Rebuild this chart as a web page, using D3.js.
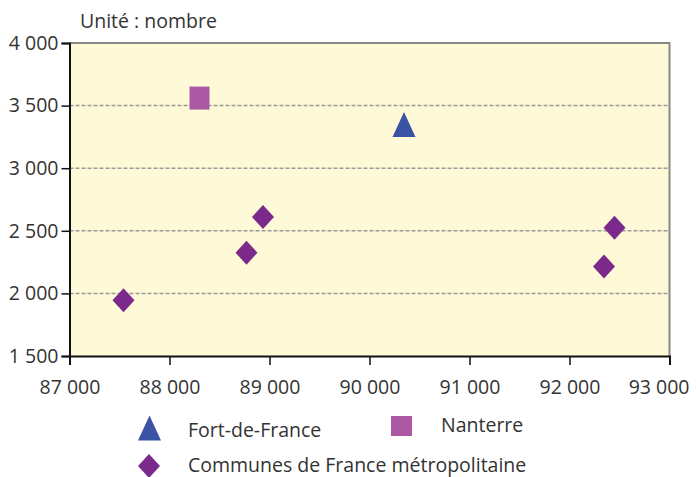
<html>
<head>
<meta charset="UTF-8">
<script src="https://d3js.org/d3.v7.min.js"></script>
<style>
  body { margin: 0; background: #fff; }
  svg { display: block; font-family: "Open Sans", sans-serif; }
</style>
</head>
<body>
<script>
// data
var fortDeFrance = [[90345, 3350]];
var nanterre = [[88300, 3560]];
var communes = [[87540, 1945], [88770, 2325], [88935, 2610], [92345, 2215], [92450, 2525]];
var xTicks = [87000, 88000, 89000, 90000, 91000, 92000, 93000];
var yTicks = [1500, 2000, 2500, 3000, 3500, 4000];

var width = 696, height = 477;
var plotLeft = 69.5, plotRight = 669.5, plotTop = 43, plotBottom = 356;
var textColor = "#333";

var svg = d3.select("body").append("svg")
  .attr("width", width)
  .attr("height", height);

var x = d3.scaleLinear().domain([87000, 93000]).range([plotLeft, plotRight]);
var y = d3.scaleLinear().domain([1500, 4000]).range([plotBottom, plotTop]);

var fmt = function(d) { return d3.format(",")(d).replace(",", " "); };

// plot background
svg.append("rect")
  .attr("x", plotLeft).attr("y", plotTop)
  .attr("width", plotRight - plotLeft).attr("height", plotBottom - plotTop)
  .attr("fill", "#fef9d6");

// dashed gridlines
svg.selectAll("line.grid")
  .data(yTicks.filter(function(d) { return d > 1500 && d < 4000; }))
  .enter().append("line")
  .attr("class", "grid")
  .attr("x1", plotLeft).attr("x2", plotRight)
  .attr("y1", function(d) { return y(d); })
  .attr("y2", function(d) { return y(d); })
  .attr("stroke", "#9a9a9a")
  .attr("stroke-width", 1.5)
  .attr("stroke-dasharray", "4,2");

// top and right borders grey
svg.append("path")
  .attr("d", "M" + plotLeft + "," + plotTop + "H" + plotRight + "V" + plotBottom)
  .attr("fill", "none")
  .attr("stroke", "#888")
  .attr("stroke-width", 2);

// axes
var yAxis = d3.axisLeft(y).tickValues(yTicks).tickFormat(fmt).tickSize(8).tickPadding(4);
var xAxis = d3.axisBottom(x).tickValues(xTicks).tickFormat(fmt).tickSize(9).tickPadding(15);

var gy = svg.append("g").attr("transform", "translate(" + plotLeft + ",0)").call(yAxis);
var gx = svg.append("g").attr("transform", "translate(0," + plotBottom + ")").call(xAxis);

[gx, gy].forEach(function(g) {
  g.select(".domain").attr("stroke", "#111").attr("stroke-width", 2);
  g.selectAll(".tick line").attr("stroke", "#111").attr("stroke-width", 1.5);
  g.selectAll("text")
    .attr("fill", textColor)
    .style("font-family", "'Open Sans', sans-serif")
    .style("font-size", "19.5px");
});
gy.selectAll("text").attr("x", -11);
// last x label pulled in so it stays inside the page
gx.selectAll(".tick text")
  .filter(function(d) { return d === 93000; })
  .attr("text-anchor", "end")
  .attr("x", 689 - plotRight);

// unit label
svg.append("text")
  .attr("x", 80).attr("y", 28)
  .attr("fill", textColor)
  .style("font-size", "19.5px")
  .text("Unité : nombre");

// marker shapes
var triangle = function(cx, cy) {
  return "M" + cx + "," + (cy - 12.5) + "L" + (cx + 11.5) + "," + (cy + 12.5) + "L" + (cx - 11.5) + "," + (cy + 12.5) + "Z";
};
var diamond = function(cx, cy) {
  return "M" + cx + "," + (cy - 12) + "L" + (cx + 11) + "," + cy + "L" + cx + "," + (cy + 12) + "L" + (cx - 11) + "," + cy + "Z";
};
var square = function(cx, cy) {
  return "M" + (cx - 10) + "," + (cy - 11.5) + "h20v23h-20Z";
};

var colors = { tri: "#3a53a4", sq: "#ad58a3", dia: "#7b2a8c" };

svg.selectAll("path.nanterre")
  .data(nanterre).enter().append("path")
  .attr("d", function(d) { return square(x(d[0]), y(d[1])); })
  .attr("fill", colors.sq);

svg.selectAll("path.fdf")
  .data(fortDeFrance).enter().append("path")
  .attr("d", function(d) { return triangle(x(d[0]), y(d[1])); })
  .attr("fill", colors.tri);

svg.selectAll("path.communes")
  .data(communes).enter().append("path")
  .attr("d", function(d) { return diamond(x(d[0]), y(d[1])); })
  .attr("fill", colors.dia);

// legend
var legend = svg.append("g").style("font-size", "19.5px").attr("fill", textColor);
legend.append("path").attr("d", triangle(149.5, 428)).attr("fill", colors.tri);
legend.append("text").attr("x", 188).attr("y", 437).text("Fort-de-France");
legend.append("path").attr("d", "M391,416h21v20h-21Z").attr("fill", colors.sq);
legend.append("text").attr("x", 441).attr("y", 432).text("Nanterre");
legend.append("path").attr("d", diamond(149, 466)).attr("fill", colors.dia);
legend.append("text").attr("x", 188).attr("y", 472).text("Communes de France métropolitaine");
</script>
</body>
</html>
